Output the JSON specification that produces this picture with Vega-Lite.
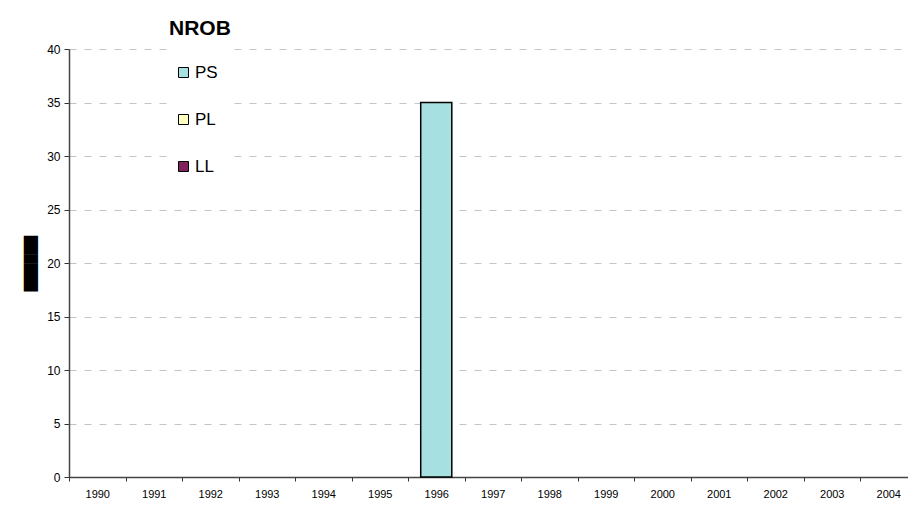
{
  "$schema": "https://vega.github.io/schema/vega-lite/v6.json",
  "width": 847.5,
  "height": 428,
  "autosize": {"type": "none"},
  "padding": {"left": 69, "top": 49, "right": 0, "bottom": 41},
  "background": "white",
  "data": {
    "values": [
      {"year": "1990", "series": "PS", "value": 0},
      {"year": "1991", "series": "PS", "value": 0},
      {"year": "1992", "series": "PS", "value": 0},
      {"year": "1993", "series": "PS", "value": 0},
      {"year": "1994", "series": "PS", "value": 0},
      {"year": "1995", "series": "PS", "value": 0},
      {"year": "1996", "series": "PS", "value": 35},
      {"year": "1997", "series": "PS", "value": 0},
      {"year": "1998", "series": "PS", "value": 0},
      {"year": "1999", "series": "PS", "value": 0},
      {"year": "2000", "series": "PS", "value": 0},
      {"year": "2001", "series": "PS", "value": 0},
      {"year": "2002", "series": "PS", "value": 0},
      {"year": "2003", "series": "PS", "value": 0},
      {"year": "2004", "series": "PS", "value": 0},
      {"year": "1996", "series": "PL", "value": 0},
      {"year": "1996", "series": "LL", "value": 0}
    ]
  },
  "transform": [{"filter": "datum.value > 0"}],
  "mark": {"type": "bar", "stroke": "black", "strokeWidth": 1.5, "width": {"band": 0.55}},
  "encoding": {
    "x": {
      "field": "year",
      "type": "ordinal",
      "scale": {
        "domain": ["1990", "1991", "1992", "1993", "1994", "1995", "1996", "1997", "1998", "1999", "2000", "2001", "2002", "2003", "2004"],
        "paddingInner": 0,
        "paddingOuter": 0
      },
      "axis": {
        "title": null,
        "labelAngle": 0,
        "tickBand": "extent",
        "tickSize": 4,
        "tickColor": "#333333",
        "domainColor": "#444444",
        "domainWidth": 1.5,
        "labelFont": "Liberation Sans",
        "labelFontSize": 11,
        "labelColor": "black",
        "labelPadding": 7,
        "grid": false
      }
    },
    "y": {
      "field": "value",
      "type": "quantitative",
      "stack": "zero",
      "scale": {"domain": [0, 40], "nice": false},
      "axis": {
        "title": "██████",
        "titleFont": "DejaVu Sans",
        "titleFontSize": 12,
        "titleFontWeight": "normal",
        "titleColor": "black",
        "titlePadding": 9,
        "values": [0, 5, 10, 15, 20, 25, 30, 35, 40],
        "tickSize": 5,
        "tickColor": "#333333",
        "domainColor": "#444444",
        "domainWidth": 1.5,
        "labelFont": "Liberation Sans",
        "labelFontSize": 12,
        "labelColor": "black",
        "labelPadding": 4,
        "grid": true,
        "gridColor": "#c4c4c4",
        "gridDash": [7, 8],
        "gridWidth": 1
      }
    },
    "color": {
      "field": "series",
      "type": "nominal",
      "scale": {"domain": ["PS", "PL", "LL"], "range": ["#a6e0e0", "#ffffc0", "#80205c"]},
      "legend": {
        "title": "NROB",
        "orient": "none",
        "legendX": 100,
        "legendY": -31,
        "padding": 0,
        "fillColor": "white",
        "titleFont": "Liberation Sans",
        "titleFontSize": 21,
        "titleFontWeight": "bold",
        "titleColor": "black",
        "titlePadding": 25,
        "symbolType": "square",
        "symbolSize": 100,
        "symbolStrokeColor": "black",
        "symbolStrokeWidth": 1,
        "symbolOpacity": 1,
        "symbolOffset": 6,
        "labelOffset": 3,
        "labelFont": "Liberation Sans",
        "labelFontSize": 17,
        "labelColor": "black",
        "rowPadding": 29
      }
    }
  },
  "config": {"view": {"stroke": null}}
}
